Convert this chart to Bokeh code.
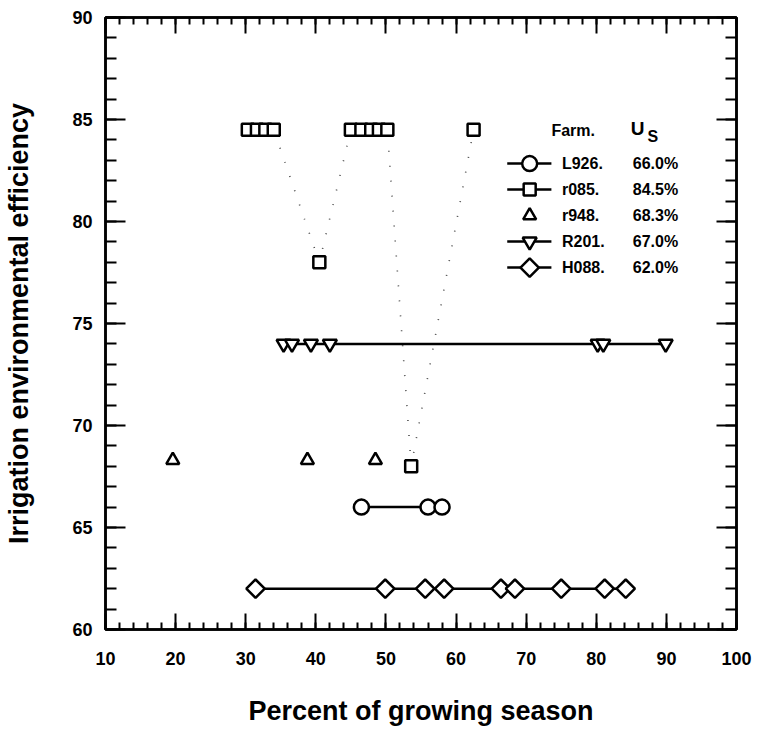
import math
from bokeh.plotting import figure
from bokeh.models import Range1d, LinearAxis, FixedTicker
from bokeh.core.properties import value
from bokeh.embed import file_html
from bokeh.resources import INLINE

# ---- data -------------------------------------------------------------
farms = ["L926", "r085", "r948", "R201", "H088"]
us_values = ["66.0%", "84.5%", "68.3%", "67.0%", "62.0%"]

l926_x = [46.5, 56.0, 58.0]
l926_y = [66.0, 66.0, 66.0]

r085_x = [30.3, 31.6, 32.8, 34.0, 40.5, 45.0, 46.5, 47.9, 49.0, 50.2, 53.6, 62.5]
r085_y = [84.5, 84.5, 84.5, 84.5, 78.0, 84.5, 84.5, 84.5, 84.5, 84.5, 68.0, 84.5]

r948_x = [19.6, 38.8, 48.5]
r948_y = [68.3, 68.3, 68.3]

r201_x = [35.4, 36.6, 39.3, 42.0, 80.2, 81.0, 89.9]
r201_y = [74.0, 74.0, 74.0, 74.0, 74.0, 74.0, 74.0]

h088_x = [31.4, 49.9, 55.6, 58.3, 66.4, 68.4, 75.0, 81.2, 84.2]
h088_y = [62.0, 62.0, 62.0, 62.0, 62.0, 62.0, 62.0, 62.0, 62.0]

x_ticks = [10, 20, 30, 40, 50, 60, 70, 80, 90, 100]
y_ticks = [60, 65, 70, 75, 80, 85, 90]

FONT = "Liberation Sans"
LW = 2.5

p = figure(width=759, height=729,
           x_range=Range1d(10, 100), y_range=Range1d(60, 90),
           output_backend="svg", toolbar_location=None,
           min_border_left=105, min_border_right=23,
           min_border_top=17, min_border_bottom=100)
p.xgrid.visible = False
p.ygrid.visible = False
p.outline_line_color = "black"
p.outline_line_width = LW
p.background_fill_color = "white"
p.border_fill_color = "white"

x_ticker = FixedTicker(ticks=x_ticks, minor_ticks=list(range(10, 101, 2)))
y_ticker = FixedTicker(ticks=y_ticks, minor_ticks=list(range(60, 91, 1)))


def style_axis(ax, major_in, minor_in):
    ax.axis_line_width = LW
    ax.axis_line_color = "black"
    ax.major_tick_in = major_in
    ax.major_tick_out = 0
    ax.minor_tick_in = minor_in
    ax.minor_tick_out = 0
    ax.major_tick_line_width = 2
    ax.minor_tick_line_width = 2
    ax.major_tick_line_color = "black"
    ax.minor_tick_line_color = "black"
    ax.major_label_text_font = FONT
    ax.major_label_text_font_style = "bold"
    ax.major_label_text_font_size = "18px"
    ax.major_label_text_color = "black"
    ax.axis_label_text_font = FONT
    ax.axis_label_text_font_style = "bold"
    ax.axis_label_text_font_size = "27px"
    ax.axis_label_text_color = "black"


xa = p.xaxis[0]
xa.ticker = x_ticker
style_axis(xa, 16, 7)
xa.major_label_standoff = 22
xa.axis_label = "Percent of growing season"
xa.axis_label_standoff = 28

ya = p.yaxis[0]
ya.ticker = y_ticker
style_axis(ya, 20, 11)
ya.major_label_standoff = 13
ya.axis_label = "Irrigation environmental efficiency"
ya.axis_label_standoff = 35

# mirrored tick marks on the top and right edges, without labels
top = LinearAxis(ticker=x_ticker)
style_axis(top, 16, 7)
top.major_label_text_color = None
top.major_label_text_font_size = "1px"
top.major_label_standoff = 0
p.add_layout(top, "above")

right = LinearAxis(ticker=y_ticker)
style_axis(right, 20, 11)
right.major_label_text_color = None
right.major_label_text_font_size = "1px"
right.major_label_standoff = 0
p.add_layout(right, "right")

# ---- series -----------------------------------------------------------
mk = dict(line_color="black", line_width=LW, fill_color="white")

# r085: sparse dotted connector, then squares
p.line(r085_x, r085_y, line_color="black", line_width=1.6, line_dash="1 14", line_alpha=0.7)
p.scatter(r085_x, r085_y, marker="square", size=12, **mk)

p.line(l926_x, l926_y, line_color="black", line_width=LW)
p.scatter(l926_x, l926_y, marker="circle", size=15, **mk)

p.scatter(r948_x, r948_y, marker="triangle", size=13, **mk)

p.line(r201_x, r201_y, line_color="black", line_width=LW)
p.scatter(r201_x, r201_y, marker="inverted_triangle", size=14, **mk)

p.line(h088_x, h088_y, line_color="black", line_width=LW)
p.scatter(h088_x, h088_y, marker="square", angle=math.pi / 4, size=13, **mk)

# ---- legend (drawn in data units) --------------------------------------
leg_line0, leg_mark, leg_line1 = 67.3, 70.5, 73.6
leg_name_x, leg_val_x = 75.1, 85.2
leg_head_y = 84.45
leg_row0, leg_step = 82.84, 1.275
markers = ["circle", "square", "triangle", "inverted_triangle", "square"]
angles = [0, 0, 0, 0, math.pi / 4]
sizes = [15, 12, 13, 14, 13]
has_line = [True, True, False, True, True]

p.text([73.6], [leg_head_y], text=["Farm."], text_font=value(FONT),
       text_font_style="bold", text_font_size="16px", text_baseline="middle")
p.text([84.9], [leg_head_y + 0.1], text=["U"], text_font=value(FONT),
       text_font_style="bold", text_font_size="19px", text_baseline="middle")
p.text([87.3], [leg_head_y - 0.3], text=["S"], text_font=value(FONT),
       text_font_style="bold", text_font_size="16px", text_baseline="middle")

for i, name in enumerate(farms):
    yy = leg_row0 - i * leg_step
    if has_line[i]:
        p.line([leg_line0, leg_line1], [yy, yy], line_color="black", line_width=LW)
    p.scatter([leg_mark], [yy], marker=markers[i], angle=angles[i], size=sizes[i], **mk)
    p.text([leg_name_x], [yy], text=[name + "."], text_font=value(FONT),
           text_font_style="bold", text_font_size="16px", text_baseline="middle")
    p.text([leg_val_x], [yy], text=[us_values[i]], text_font=value(FONT),
           text_font_style="bold", text_font_size="16px", text_baseline="middle")

open("out.html", "w").write(file_html(p, INLINE))
